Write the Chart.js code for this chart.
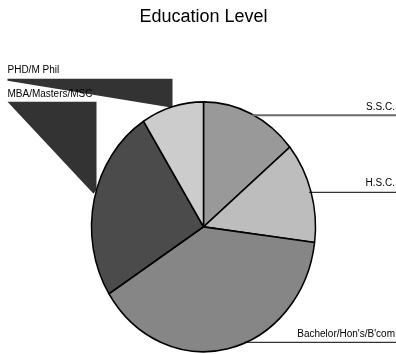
<!DOCTYPE html>
<html>
<head>
<meta charset="utf-8">
<script src="https://cdn.jsdelivr.net/npm/chart.js@4/dist/chart.umd.min.js"></script>
<style>
  html, body { margin: 0; padding: 0; background: #fff; }
  #wrap { width: 396px; height: 354px; position: relative; }
</style>
</head>
<body>
<div id="wrap"><canvas id="c" width="396" height="354"></canvas></div>
<script>
const categories = ['S.S.C.', 'H.S.C.', "Bachelor/Hon's/B'com", 'MBA/Masters/MSC', 'PHD/M Phil'];
const counts = [14, 13, 39, 25, 9];
const sliceColors = ['#999999', '#bdbdbd', '#868686', '#4b4b4b', '#cccccc'];
const chartTitle = 'Education Level';

const RX = 112, RY = 125;
const SY = RY / RX;
const FONT = '"Liberation Sans", Arial, sans-serif';

function centerOf(chart) {
  const arc = chart.getDatasetMeta(0).data[0];
  return { x: arc.x, y: arc.y };
}

const ellipsePlugin = {
  id: 'ellipse',
  beforeDatasetsDraw(chart) {
    const ctx = chart.ctx;
    const c = centerOf(chart);
    // left-hand label wedges (drawn beneath the pie)
    ctx.save();
    ctx.fillStyle = '#333333';
    const wedges = [
      [[-196, -148], [-31, -148], [-31, -119], [-196, -146]],
      [[-196, -125], [-107, -125], [-107, -37], [-110, -33]]
    ];
    wedges.forEach(w => {
      ctx.beginPath();
      w.forEach((p, i) => {
        const x = c.x + p[0], y = c.y + p[1];
        if (i === 0) ctx.moveTo(x, y); else ctx.lineTo(x, y);
      });
      ctx.closePath();
      ctx.fill();
    });
    ctx.restore();
    ctx.save();
    ctx.translate(c.x, c.y);
    ctx.scale(1, SY);
    ctx.translate(-c.x, -c.y);
  },
  afterDatasetsDraw(chart) {
    chart.ctx.restore();
    const ctx = chart.ctx;
    const c = centerOf(chart);
    const W = chart.width;
    ctx.save();
    ctx.font = '10px ' + FONT;
    ctx.fillStyle = '#000';
    ctx.textBaseline = 'alphabetic';
    // right-side labels: [index, text baseline offset, line offset, color, width]
    const right = [
      [0, -117, -111.5, '#6a6a6a', 2],
      [1, -41, -34.5, '#000', 1],
      [2, 110, 115.5, '#000', 1]
    ];
    right.forEach(r => {
      const ly = c.y + r[2];
      const t = (ly - c.y) / RY;
      const ex = c.x + RX * Math.sqrt(Math.max(0, 1 - t * t));
      ctx.strokeStyle = r[3];
      ctx.lineWidth = r[4];
      ctx.beginPath();
      ctx.moveTo(ex - 2, ly);
      ctx.lineTo(W, ly);
      ctx.stroke();
      ctx.textAlign = 'right';
      ctx.fillText(categories[r[0]], W - 1, c.y + r[1]);
    });
    ctx.textAlign = 'left';
    ctx.fillText(categories[4], c.x - 196, c.y - 154);
    ctx.fillText(categories[3], c.x - 196, c.y - 130);
    ctx.restore();
  }
};

new Chart(document.getElementById('c'), {
  type: 'pie',
  data: {
    labels: categories,
    datasets: [{
      data: counts,
      backgroundColor: sliceColors,
      borderColor: '#000',
      borderWidth: 1.5,
      radius: RX
    }]
  },
  options: {
    responsive: false,
    animation: false,
    events: [],
    layout: { padding: { left: 11, right: 0, top: 0, bottom: 0 } },
    plugins: {
      legend: { display: false },
      tooltip: { enabled: false },
      title: {
        display: true,
        text: chartTitle,
        color: '#000',
        font: { family: FONT, size: 18, weight: 'normal' },
        padding: { top: 6, bottom: 72 }
      }
    }
  },
  plugins: [ellipsePlugin]
});
</script>
</body>
</html>
